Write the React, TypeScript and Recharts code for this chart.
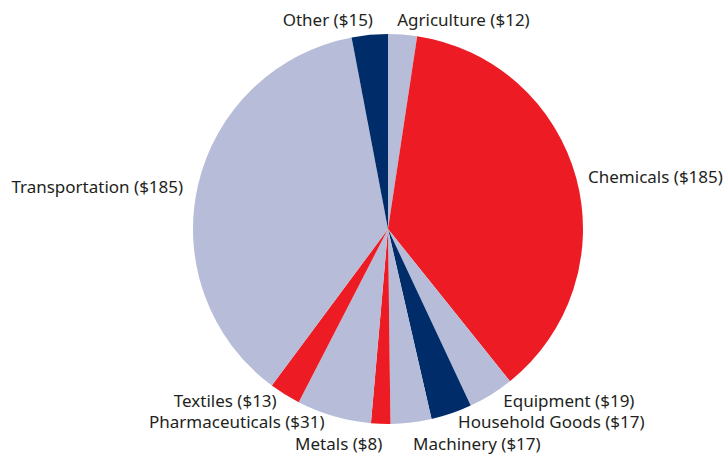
import React from 'react';
import { PieChart, Pie, Cell } from 'recharts';

const CATEGORIES = [
  'Agriculture',
  'Chemicals',
  'Equipment',
  'Household Goods',
  'Machinery',
  'Metals',
  'Pharmaceuticals',
  'Textiles',
  'Transportation',
  'Other',
];
const VALUES = [12, 185, 19, 17, 17, 8, 31, 13, 185, 15];

const LAVENDER = '#b7bdd8';
const RED = '#ed1c24';
const NAVY = '#002d6a';
const SLICE_COLORS = [LAVENDER, RED, LAVENDER, NAVY, LAVENDER, RED, LAVENDER, RED, LAVENDER, NAVY];

// small hand adjustments so labels don't collide (like the original layout)
const LABEL_NUDGE: Record<string, [number, number]> = {
  Agriculture: [-6, 1],
  Chemicals: [4, 2],
  Equipment: [8, -8],
  'Household Goods': [4, -7],
  Machinery: [1, 5],
  Metals: [2, 4],
  Pharmaceuticals: [-7, -10],
  Textiles: [-4, -8],
  Transportation: [-7, 5],
  Other: [4, 1],
};

const data = CATEGORIES.map((name, i) => ({ name, value: VALUES[i] }));

const RADIAN = Math.PI / 180;

const renderLabel = (props: any) => {
  const { cx, cy, midAngle, outerRadius, name, value } = props;
  const s = Math.cos(-midAngle * RADIAN);
  const c = Math.sin(-midAngle * RADIAN);
  const [dx, dy] = LABEL_NUDGE[name] || [0, 0];
  const x = cx + s * (outerRadius + 8) + dx;
  const y = cy + c * (outerRadius + 16) + dy;
  return (
    <text
      x={x}
      y={y}
      textAnchor={s >= 0 ? 'start' : 'end'}
      dominantBaseline="central"
      fill="#231f20"
      fontSize={17}
      fontFamily="'Noto Sans', sans-serif"
    >
      {`${name} ($${value})`}
    </text>
  );
};

export default function App() {
  return (
    <div style={{ position: 'absolute', left: 0, top: 0, background: '#fff' }}>
      <PieChart width={727} height={458} margin={{ top: 0, right: 0, bottom: 0, left: 0 }}>
        <Pie
          data={data}
          dataKey="value"
          nameKey="name"
          cx={388}
          cy={229}
          outerRadius={195}
          startAngle={90}
          endAngle={-270}
          stroke="none"
          label={renderLabel}
          labelLine={false}
          isAnimationActive={false}
        >
          {data.map((entry, index) => (
            <Cell key={`cell-${index}`} fill={SLICE_COLORS[index]} />
          ))}
        </Pie>
      </PieChart>
    </div>
  );
}
